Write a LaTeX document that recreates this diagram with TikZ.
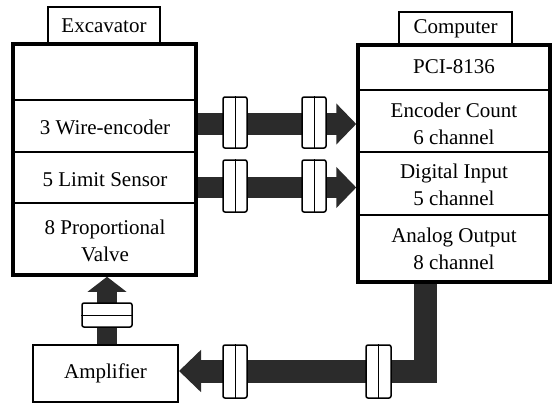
\documentclass[tikz,border=0pt]{standalone}
\usepackage{fontspec}
\setmainfont{Liberation Serif}
\newfontfamily\diagfont{Liberation Serif}
\usetikzlibrary{arrows.meta}
\definecolor{arrowgray}{gray}{0.17}
\begin{document}
\begin{tikzpicture}[x=1pt,y=-1pt,
  every node/.style={font=\diagfont\fontsize{21}{27}\selectfont, inner sep=0pt},
  bigbox/.style={draw, line width=3.5pt},
  tabbox/.style={draw, line width=1.5pt, fill=white},
  divider/.style={line width=2pt},
  txt/.style={align=center},
  conn/.style={draw, line width=1.5pt, fill=white, rounded corners=2pt},
  innerline/.style={line width=0.8pt},
  pipe/.style={draw=arrowgray, line width=22pt},
]
\useasboundingbox (0,0) rectangle (557,404);

% tabs
\node[tabbox, minimum width=112pt, minimum height=37pt] (exctab) at (104,25.5) {Excavator};
\node[tabbox, minimum width=113pt, minimum height=33pt] (comptab) at (455.5,28.5) {Computer};

% big boxes
\node[bigbox, fill=white, minimum width=183pt, minimum height=231pt] (exc) at (104.5,159.5) {};
\node[bigbox, fill=white, minimum width=192pt, minimum height=237pt] (comp) at (454,163.5) {};

% dividers
\draw[divider] (exc.west |- 0,100) -- (exc.east |- 0,100);
\draw[divider] (exc.west |- 0,152) -- (exc.east |- 0,152);
\draw[divider] (exc.west |- 0,203) -- (exc.east |- 0,203);
\draw[divider] (comp.west |- 0,90) -- (comp.east |- 0,90);
\draw[divider] (comp.west |- 0,152) -- (comp.east |- 0,152);
\draw[divider] (comp.west |- 0,215) -- (comp.east |- 0,215);

% texts
\node[txt] (wire) at (105,127) {3 Wire-encoder};
\node[txt] (limit) at (105,180) {5 Limit Sensor};
\node[txt] (valve) at (105,241) {8 Proportional\\Valve};
\node[txt] (pci) at (454,67) {PCI-8136};
\node[txt] (enc) at (454,123.5) {Encoder Count\\6 channel};
\node[txt] (din) at (454,185) {Digital Input\\5 channel};
\node[txt] (aout) at (454,248.5) {Analog Output\\8 channel};

% amplifier
\node[draw, line width=2pt, minimum width=145pt, minimum height=57pt] (amp) at (105.5,373.5) {Amplifier};

% arrows
\draw[pipe, -{Triangle[length=20pt,width=40pt]}] (exc.east |- 0,124) -- (comp.west |- 0,124);
\draw[pipe, line width=21pt, -{Triangle[length=20pt,width=40pt]}] (exc.east |- 0,187.5) -- (comp.west |- 0,187.5);
\draw[pipe, line width=23pt, -{Triangle[length=22pt,width=41pt]}] (comp.south -| 425,0) |- (amp.east |- 0,371);
\draw[pipe, line width=20pt, -{Triangle[length=15pt,width=38pt]}] (amp.north -| 107,0) -- (exc.south -| 107,0);

% connectors
\node[conn, minimum width=24pt, minimum height=51pt] (c1) at (235,122.5) {};
\node[conn, minimum width=24pt, minimum height=51pt] (c2) at (314,122.5) {};
\node[conn, minimum width=24pt, minimum height=52pt] (c3) at (235,186) {};
\node[conn, minimum width=24pt, minimum height=52pt] (c4) at (314,186) {};
\node[conn, minimum width=24pt, minimum height=53pt] (c5) at (235,371.5) {};
\node[conn, minimum width=25pt, minimum height=53pt] (c6) at (378.5,371.5) {};
\node[conn, minimum width=50pt, minimum height=24pt] (c7) at (107,315) {};
\foreach \c in {c1,c2,c3,c4,c5,c6} \draw[innerline] (\c.north) -- (\c.south);
\draw[innerline] (c7.west) -- (c7.east);
\end{tikzpicture}
\end{document}
